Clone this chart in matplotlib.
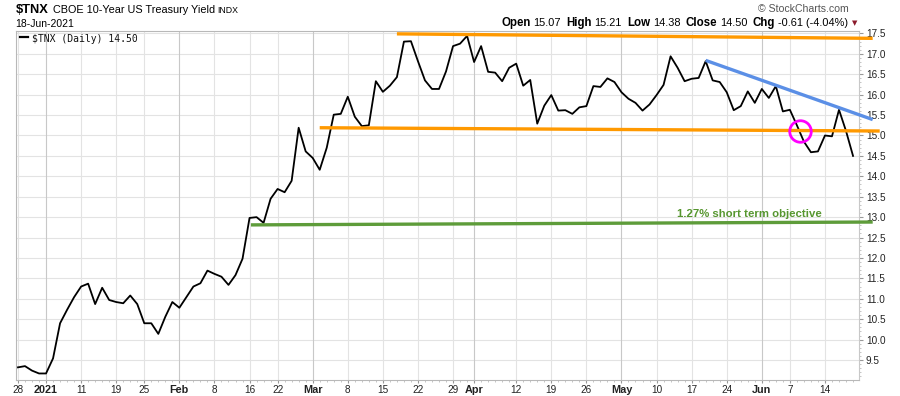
import matplotlib
matplotlib.use("Agg")
import matplotlib.pyplot as plt
import numpy as np
import pandas as pd

# ---------------- data ----------------
start_date = "2020-12-28"
end_date = "2021-06-18"
holidays = ["2021-01-01", "2021-01-18", "2021-02-15", "2021-04-02", "2021-05-31"]

tnx = [9.32, 9.35, 9.24, 9.17, 9.17, 9.54, 10.40, 10.73, 11.04, 11.30,
       11.37, 10.87, 11.27, 10.97, 10.92, 10.89, 11.08, 10.87, 10.40, 10.40,
       10.14, 10.56, 10.92, 10.78, 11.04, 11.30, 11.38, 11.69, 11.61, 11.54,
       11.34, 11.58, 11.98, 12.98, 13.00, 12.86, 13.45, 13.69, 13.61, 13.89,
       15.19, 14.61, 14.45, 14.16, 14.70, 15.51, 15.53, 15.95, 15.46, 15.23,
       15.25, 16.33, 16.07, 16.22, 16.43, 17.30, 17.31, 16.82, 16.35, 16.14,
       16.14, 16.57, 17.19, 17.25, 17.44, 16.80, 17.19, 16.56, 16.54, 16.33,
       16.66, 16.76, 16.22, 16.36, 15.29, 15.73, 15.99, 15.61, 15.62, 15.53,
       15.69, 15.72, 16.21, 16.19, 16.40, 16.31, 16.06, 15.90, 15.80, 15.61,
       15.76, 15.99, 16.24, 16.94, 16.66, 16.33, 16.39, 16.41, 16.82, 16.35,
       16.31, 16.06, 15.62, 15.72, 16.08, 15.80, 16.14, 15.92, 16.21, 15.59,
       15.63, 15.25, 14.85, 14.59, 14.61, 15.00, 14.98, 15.63, 15.11, 14.50]

tick_dates = ["2020-12-28", "2021-01-04", "2021-01-11", "2021-01-19", "2021-01-25",
              "2021-02-01", "2021-02-08", "2021-02-16", "2021-02-22", "2021-03-01",
              "2021-03-08", "2021-03-15", "2021-03-22", "2021-03-29", "2021-04-01",
              "2021-04-12", "2021-04-19", "2021-04-26", "2021-05-03", "2021-05-10",
              "2021-05-17", "2021-05-24", "2021-06-01", "2021-06-07", "2021-06-14"]
tick_labels = ["28", "2021", "11", "19", "25", "Feb", "8", "16", "22", "Mar", "8", "15",
               "22", "29", "Apr", "12", "19", "26", "May", "10", "17", "24", "Jun", "7", "14"]
month_labels = ["2021", "Feb", "Mar", "Apr", "May", "Jun"]

y_ticks = [9.5, 10.0, 10.5, 11.0, 11.5, 12.0, 12.5, 13.0, 13.5, 14.0, 14.5,
           15.0, 15.5, 16.0, 16.5, 17.0, 17.5]

# trend lines (trading-day index, value)
resist_x = [54.0, 121.8]
resist_y = [17.49, 17.38]
support_x = [43.0, 122.8]
support_y = [15.19, 15.11]
objective_x = [33.2, 121.8]
objective_y = [12.81, 12.88]
downtrend_x = [98.0, 121.8]
downtrend_y = [16.84, 15.39]
breakdown_x = [111.4]
breakdown_y = [15.12]

# ---------------- layout ----------------
W, H = 900, 396
dates = pd.bdate_range(start_date, end_date)
dates = dates[~dates.isin(pd.to_datetime(holidays))]
idx = np.arange(len(dates))
tick_pos = [int(dates.get_loc(pd.Timestamp(d))) for d in tick_dates]

fig = plt.figure(figsize=(W / 100, H / 100), dpi=100)
fig.patch.set_facecolor("white")
L, R, T, B = 16, 859, 31, 380
ax = fig.add_axes([L / W, 1 - B / H, (R - L) / W, (B - T) / H])

ax.set_xlim(-0.28, 119.85)
ax.set_ylim(9.01, 17.56)

# grid
for yv in y_ticks:
    ax.axhline(yv, color="#e3e3e3", lw=0.8, zorder=0)
for p, lab in zip(tick_pos, tick_labels):
    ax.axvline(p, color="#c8c8c8" if lab in month_labels else "#e3e3e3", lw=0.8, zorder=0)

# price
ax.plot(idx, tnx, color="black", lw=1.3, zorder=3)

# trend lines
orange = "#ff9900"
ax.plot(resist_x, resist_y, color=orange, lw=2.4, solid_capstyle="butt", clip_on=False, zorder=4)
ax.plot(support_x, support_y, color=orange, lw=2.4, solid_capstyle="butt", clip_on=False, zorder=4)
ax.plot(objective_x, objective_y, color="#5e9c3a", lw=2.4, solid_capstyle="butt", clip_on=False, zorder=4)
ax.plot(downtrend_x, downtrend_y, color="#5b8fe6", lw=2.4, solid_capstyle="butt", clip_on=False, zorder=4)
ax.plot(breakdown_x, breakdown_y, marker="o", ms=15.5, mfc="none", mec="#ff00ff", mew=2.0,
        ls="none", zorder=5)

ax.text(104.2, 13.07, "1.27% short term objective", color="#56962f", fontsize=8.2,
        fontweight="bold", family="Liberation Sans", ha="center", va="center", zorder=5)

# axes styling
for s in ["top", "left", "bottom"]:
    ax.spines[s].set_color("#b8b8b8")
    ax.spines[s].set_linewidth(0.8)
ax.spines["right"].set_color("#c8c8c8")
ax.spines["right"].set_linewidth(0.8)

ax.yaxis.tick_right()
ax.set_yticks(y_ticks)
ax.set_yticklabels([f"{v:.1f}" for v in y_ticks])
ax.tick_params(axis="y", which="major", length=3, width=0.8, color="#999999", pad=2,
               labelsize=7.2, labelcolor="#222222", left=False, right=True)
ax.set_yticks(np.arange(9.1, 17.56, 0.1), minor=True)
ax.tick_params(axis="y", which="minor", length=1.5, width=0.6, color="#bbbbbb", left=False, right=True)

ax.set_xticks(tick_pos)
ax.set_xticklabels(tick_labels)
ax.set_xticks(idx, minor=True)
ax.tick_params(axis="x", which="major", length=2, width=0.8, color="#999999", pad=1.5,
               labelsize=7.2, labelcolor="#222222")
ax.tick_params(axis="x", which="minor", length=1.5, width=0.6, color="#bbbbbb")
for lab in ax.get_xticklabels() + ax.get_yticklabels():
    lab.set_family("Liberation Sans")
for lab in ax.get_xticklabels():
    if lab.get_text() in month_labels:
        lab.set_fontweight("bold")
        lab.set_fontsize(7.8)

# ---------------- header texts ----------------
renderer = fig.canvas.get_renderer()


def row(x_px, y_px, parts, ha="left"):
    widths = []
    for s, kw, gap in parts:
        t = fig.text(0, 0, s, **kw)
        widths.append(t.get_window_extent(renderer).width)
        t.remove()
    total = sum(widths) + sum(g for _, _, g in parts)
    x = x_px if ha == "left" else x_px - total
    for (s, kw, gap), w in zip(parts, widths):
        fig.text(x / W, 1 - y_px / H, s, va="baseline", ha="left", **kw)
        x += w + gap


F = "Liberation Sans"
row(15.7, 13.3, [("$TNX", dict(fontsize=9.3, fontweight="bold", family=F), 4),
                 ("CBOE 10-Year US Treasury Yield", dict(fontsize=7.8, family=F), 3),
                 ("INDX", dict(fontsize=6.3, family=F), 0)])
fig.text(15.7 / W, 1 - 26.7 / H, "18-Jun-2021", fontsize=7.5, family=F, va="baseline")

bold = dict(fontsize=8.3, fontweight="bold", family=F)
reg = dict(fontsize=7.9, family=F)
row(850, 26, [("Open", bold, 3), ("15.07", reg, 5), ("High", bold, 3), ("15.21", reg, 5),
              ("Low", bold, 3), ("14.38", reg, 5), ("Close", bold, 3), ("14.50", reg, 5),
              ("Chg", bold, 3), ("-0.61 (-4.04%)", reg, 2)], ha="right")
fig.text(857 / W, 1 - 25.5 / H, "\u25BC", fontsize=5, color="#8b1a2b", ha="right",
         va="baseline", family="DejaVu Sans")
fig.text(849 / W, 1 - 12.5 / H, "\u00A9 StockCharts.com", fontsize=7.6, color="#555555",
         family=F, ha="right", va="baseline")

# legend
ax.plot([0.005, 0.014], [0.983, 0.983], transform=ax.transAxes, color="black", lw=1.6, zorder=6)
fig.text(32 / W, 1 - 42 / H, "$TNX (Daily) 14.50", fontsize=7, family="DejaVu Sans Mono",
         va="baseline", color="#111111")

fig.savefig("out.png", dpi=100, facecolor="white")
